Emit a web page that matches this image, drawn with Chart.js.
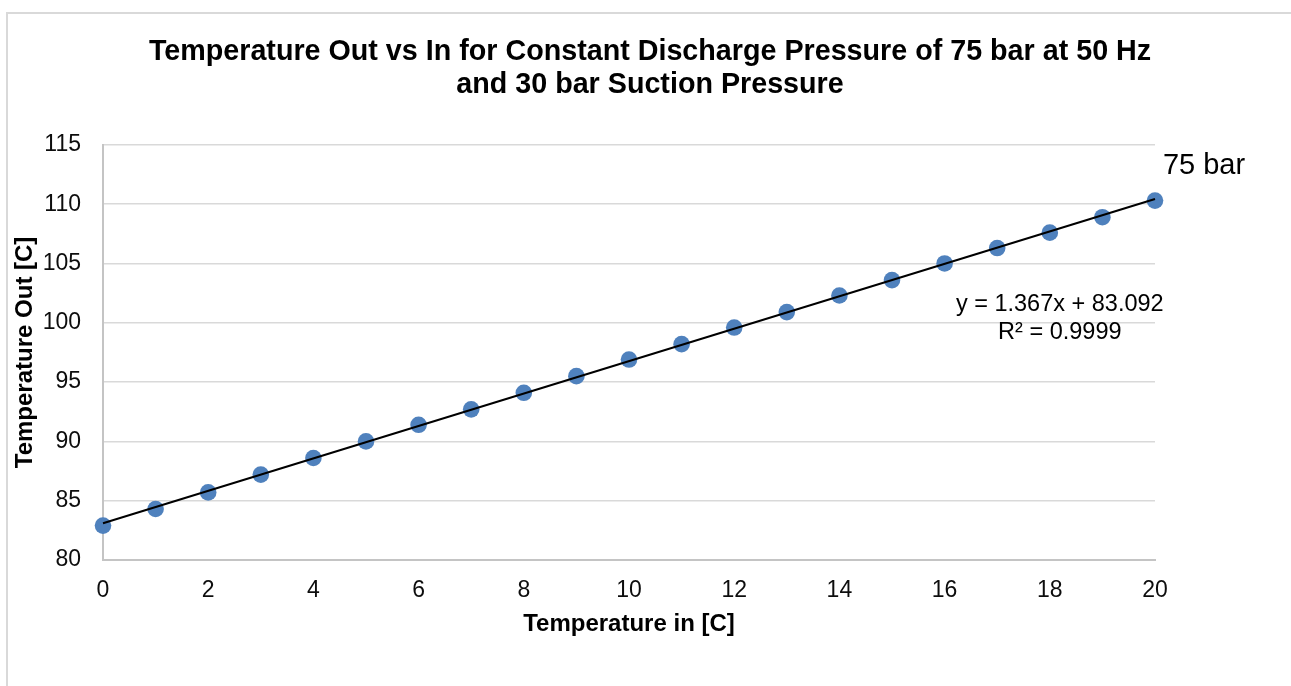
<!DOCTYPE html>
<html lang="en">
  <head>
    <meta charset="UTF-8" />
    <title>Temperature Out vs In</title>
    <script src="https://cdn.jsdelivr.net/npm/chart.js@4.4.0/dist/chart.umd.min.js"></script>
    <style>
      html, body { margin: 0; padding: 0; background: #fff; }
      #wrap { position: relative; width: 1291px; height: 686px; }
    </style>
  </head>
  <body>
    <div id="wrap"><canvas id="chart" width="1291" height="686"></canvas></div>

    <script>
      const tempIn  = [0, 1, 2, 3, 4, 5, 6, 7, 8, 9, 10, 11, 12, 13, 14, 15, 16, 17, 18, 19, 20];
      const tempOut = [82.9, 84.3, 85.7, 87.2, 88.6, 90.0, 91.4, 92.7, 94.1, 95.5, 96.9,
                       98.2, 99.6, 100.9, 102.3, 103.6, 105.0, 106.3, 107.6, 108.9, 110.3];

      // linear trendline end points (y = 1.367x + 83.092)
      const trendX = [0, 20];
      const trendY = [83.092, 110.432];

      const titleLines = ['Temperature Out vs In for Constant Discharge Pressure of 75 bar at 50 Hz',
                          'and 30 bar Suction Pressure'];
      const xTitle = 'Temperature in [C]';
      const yTitle = 'Temperature Out [C]';
      const eqLines = ['y = 1.367x + 83.092', 'R\u00b2 = 0.9999'];
      const seriesLabel = '75 bar';

      const FONT = "'Liberation Sans', Arial, sans-serif";

      // white background + the thin frame round the chart
      const framePlugin = {
        id: 'frame',
        beforeDraw(chart) {
          const c = chart.ctx;
          c.save();
          c.fillStyle = '#fff';
          c.fillRect(0, 0, chart.width, chart.height);
          c.strokeStyle = '#d9d9d9';
          c.lineWidth = 2;
          c.beginPath();
          c.moveTo(7, chart.height);
          c.lineTo(7, 13);
          c.lineTo(chart.width, 13);
          c.stroke();
          c.restore();
        }
      };

      // equation and series label
      const notesPlugin = {
        id: 'notes',
        afterDraw(chart) {
          const c = chart.ctx;
          const xs = chart.scales.x, ys = chart.scales.y;
          c.save();
          c.fillStyle = '#000';
          c.textBaseline = 'middle';
          c.textAlign = 'center';
          c.font = '23.5px ' + FONT;
          const ex = xs.getPixelForValue(18.19);
          c.fillText(eqLines[0], ex, ys.getPixelForValue(101.56));
          c.fillText(eqLines[1], ex, ys.getPixelForValue(99.22));
          c.textAlign = 'left';
          c.font = '29px ' + FONT;
          c.fillText(seriesLabel, xs.getPixelForValue(20.15), ys.getPixelForValue(113.23));
          c.restore();
        }
      };

      const points = tempIn.map((x, i) => ({x: x, y: tempOut[i]}));
      const trend = trendX.map((x, i) => ({x: x, y: trendY[i]}));

      new Chart(document.getElementById('chart'), {
        type: 'scatter',
        data: {
          datasets: [
            {
              label: 'Trend',
              type: 'line',
              data: trend,
              borderColor: '#000',
              borderWidth: 2,
              pointRadius: 0,
              fill: false,
              order: 0,
              clip: false
            },
            {
              label: seriesLabel,
              data: points,
              backgroundColor: '#4f81bd',
              borderWidth: 0,
              pointRadius: 8.3,
              pointHoverRadius: 8.3,
              order: 1,
              clip: false
            }
          ]
        },
        options: {
          responsive: false,
          animation: false,
          layout: { padding: { top: 0, left: 9, right: 0, bottom: 46 } },
          plugins: {
            legend: { display: false },
            tooltip: { enabled: false },
            title: {
              display: true,
              text: titleLines,
              color: '#000',
              font: { family: FONT, size: 28.7, weight: 'bold', lineHeight: 1.13 },
              padding: { top: 36, bottom: 44 }
            }
          },
          scales: {
            x: {
              type: 'linear',
              min: 0,
              max: 20,
              afterFit(s) { s.height = 80; },
              ticks: {
                stepSize: 2,
                padding: 17,
                color: '#0d0d0d',
                font: { family: FONT, size: 23 }
              },
              grid: { display: false, drawTicks: false },
              border: { display: true, color: '#c4c4c4', width: 2 },
              title: {
                display: true,
                text: xTitle,
                color: '#000',
                font: { family: FONT, size: 24, weight: 'bold' },
                padding: { top: 0, bottom: 1 }
              }
            },
            y: {
              min: 80,
              max: 115,
              afterFit(s) { s.width = 94; },
              ticks: {
                stepSize: 5,
                padding: 22,
                color: '#0d0d0d',
                font: { family: FONT, size: 23 }
              },
              grid: { color: '#d9d9d9', lineWidth: 1.5, drawTicks: false },
              border: { display: true, color: '#c4c4c4', width: 2 },
              title: {
                display: true,
                text: yTitle,
                color: '#000',
                font: { family: FONT, size: 24, weight: 'bold' },
                padding: { top: 2, bottom: 0 }
              }
            },
            // empty right-hand scale: only keeps room for the "75 bar" label
            yRight: {
              position: 'right',
              display: true,
              afterFit(s) { s.width = 136; },
              ticks: { display: false },
              grid: { display: false, drawTicks: false },
              border: { display: false }
            }
          }
        },
        plugins: [framePlugin, notesPlugin]
      });
    </script>
  </body>
</html>
